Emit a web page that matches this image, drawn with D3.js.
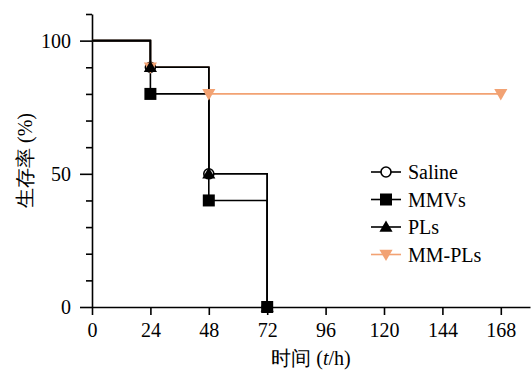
<meta charset="utf-8">
<script src="https://d3js.org/d3.v7.min.js"></script>
<svg id="chart" width="531" height="370"></svg>
<script>
// survival data (time in h, survival in %)
var groups = ["Saline", "MMVs", "PLs", "MM-PLs"];
var salineT = [0, 24, 48, 72],  salineV = [100, 90, 50, 0];
var mmvsT   = [0, 24, 48, 72],  mmvsV   = [100, 80, 40, 0];
var plsT    = [0, 24, 48, 72],  plsV    = [100, 90, 50, 0];
var mmplsT  = [0, 24, 48, 168], mmplsV  = [100, 90, 80, 80];
var xTicks = [0, 24, 48, 72, 96, 120, 144, 168];
var yTicks = [0, 50, 100];

var W = 531, H = 370;
var margin = {left: 92, right: 1, top: 14, bottom: 63};
var FS = 20;

var svg = d3.select("#chart").style("position", "absolute").style("left", 0).style("top", 0);

var x = d3.scaleLinear().domain([0, 180]).range([margin.left, W - margin.right]);
var y = d3.scaleLinear().domain([0, 110]).range([H - margin.bottom, margin.top]);

var orange = "#F2A273";
var series = [
  {name: "MM-PLs", t: mmplsT, v: mmplsV, color: orange, shape: "tri-down"},
  {name: "Saline", t: salineT, v: salineV, color: "#000", shape: "circle"},
  {name: "MMVs", t: mmvsT, v: mmvsV, color: "#000", shape: "square"},
  {name: "PLs", t: plsT, v: plsV, color: "#000", shape: "tri-up"}
];

function serif(sel) {
  return sel.style("font-family", "'Times New Roman'").attr("font-size", FS).attr("fill", "#000");
}

// axes
svg.append("g")
  .attr("transform", "translate(0," + y(0) + ")")
  .call(d3.axisBottom(x).tickValues(xTicks).tickSize(8).tickPadding(8).tickSizeOuter(0));
svg.append("g")
  .attr("transform", "translate(" + x(0) + ",0)")
  .call(d3.axisLeft(y).tickValues(yTicks).tickSize(12).tickPadding(9).tickSizeOuter(0));
svg.append("g")
  .attr("transform", "translate(" + x(0) + ",0)")
  .call(d3.axisLeft(y).tickValues(d3.range(0, 111, 10).filter(function(d){ return d % 50; }))
    .tickSize(6).tickFormat("").tickSizeOuter(0))
  .select(".domain").remove();
svg.selectAll("g").attr("font-family", null).attr("font-size", null);
svg.selectAll(".domain, .tick line").attr("stroke", "#000").attr("stroke-width", 1.6);
serif(svg.selectAll(".tick text"));

// labels
serif(svg.append("text"))
  .attr("x", (x.range()[0] + x.range()[1]) / 2).attr("y", 365)
  .attr("text-anchor", "middle")
  .html('时间 (<tspan font-style="italic">t</tspan>/h)');
serif(svg.append("text"))
  .attr("transform", "translate(32," + (y(55)) + ") rotate(-90)")
  .attr("text-anchor", "middle")
  .text("生存率 (%)");

// step lines
var line = d3.line().curve(d3.curveStepAfter)
  .x(function(d){ return x(d[0]); }).y(function(d){ return y(d[1]); });
series.forEach(function(s) {
  var pts = s.t.map(function(t, i){ return [t, s.v[i]]; });
  svg.append("path").datum(pts)
    .attr("d", line).attr("fill", "none")
    .attr("stroke", s.color).attr("stroke-width", 1.6);
});

function marker(g, shape, color, cx, cy) {
  if (shape === "circle") {
    g.append("circle").attr("cx", cx).attr("cy", cy).attr("r", 5)
      .attr("fill", "#fff").attr("stroke", color).attr("stroke-width", 1.6);
  } else if (shape === "square") {
    g.append("rect").attr("x", cx - 6).attr("y", cy - 6).attr("width", 12).attr("height", 12)
      .attr("fill", color);
  } else if (shape === "tri-up") {
    g.append("path").attr("d", d3.symbol(d3.symbolTriangle, 75)())
      .attr("transform", "translate(" + cx + "," + (cy + 1) + ")").attr("fill", color);
  } else {
    g.append("path").attr("d", d3.symbol(d3.symbolTriangle, 75)())
      .attr("transform", "translate(" + cx + "," + (cy - 1) + ") rotate(180)").attr("fill", color);
  }
}

// markers at each event (not at t=0); circles first so triangles sit on top
var markerOrder = ["Saline", "MM-PLs", "MMVs", "PLs"];
markerOrder.forEach(function(name) {
  var s = series.filter(function(d){ return d.name === name; })[0];
  var g = svg.append("g");
  s.t.forEach(function(t, i) {
    if (i === 0) return;
    marker(g, s.shape, s.color, x(t), y(s.v[i]));
  });
});

// legend
groups.forEach(function(name, i) {
  var s = series.filter(function(d){ return d.name === name; })[0];
  var ly = 172 + i * 27.5;
  var g = svg.append("g");
  g.append("line").attr("x1", 371).attr("x2", 401).attr("y1", ly).attr("y2", ly)
    .attr("stroke", s.color).attr("stroke-width", 1.6);
  marker(g, s.shape, s.color, 386, ly);
  serif(g.append("text")).attr("x", 408).attr("y", ly + 7).text(name);
});
</script>
